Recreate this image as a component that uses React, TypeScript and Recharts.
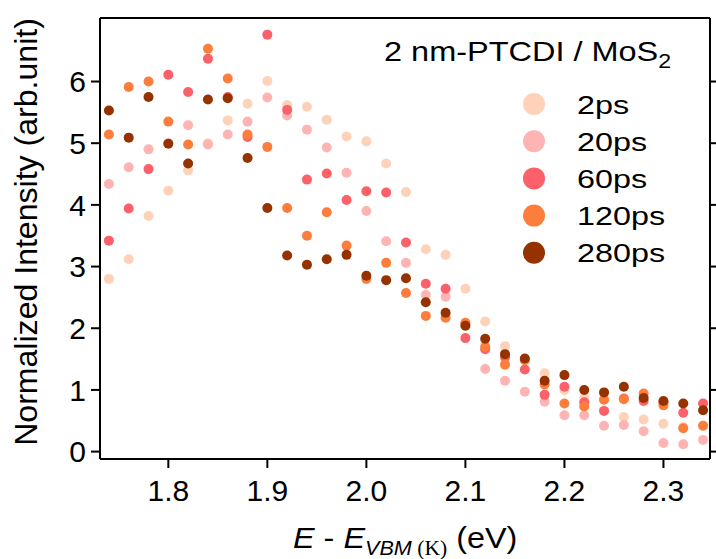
import { ScatterChart, Scatter, XAxis, YAxis } from "recharts";

const energy = [
  1.74, 1.76, 1.78, 1.8, 1.82, 1.84, 1.86, 1.88, 1.9, 1.92, 1.94, 1.96, 1.98, 2.0, 2.02, 2.04,
  2.06, 2.08, 2.1, 2.12, 2.14, 2.16, 2.18, 2.2, 2.22, 2.24, 2.26, 2.28, 2.3, 2.32, 2.34,
];

const ps2 = [
  2.8, 3.12, 3.82, 4.23, 4.56, 5.0, 5.37, 5.64, 6.01, 5.62, 5.59, 5.38, 5.11, 5.03, 4.67, 4.21,
  3.28, 3.19, 2.64, 2.11, 1.71, 1.5, 1.27, 1.0, 0.87, 0.85, 0.56, 0.52, 0.45, 0.4, 0.42,
];
const ps20 = [
  4.34, 4.61, 4.9, 5.0, 5.29, 4.98, 5.14, 5.35, 5.74, 5.45, 5.22, 4.93, 4.52, 3.9, 3.41, 3.06,
  2.54, 2.51, 2.05, 1.34, 1.15, 0.97, 0.81, 0.59, 0.59, 0.42, 0.43, 0.33, 0.14, 0.12, 0.19,
];
const ps60 = [
  3.42, 3.94, 4.58, 6.11, 5.83, 6.37, 5.75, 5.1, 6.76, 5.54, 4.41, 4.51, 4.08, 4.22, 4.2, 3.39,
  2.72, 2.64, 1.84, 1.66, 1.53, 1.33, 0.92, 1.05, 0.8, 0.66, 0.86, 0.82, 0.8, 0.63, 0.78,
];
const ps120 = [
  5.14, 5.91, 6.0, 5.35, 4.98, 6.53, 6.05, 5.14, 4.94, 3.95, 3.5, 3.88, 3.34, 2.8, 3.06, 2.57,
  2.2, 2.17, 2.09, 1.7, 1.41, 1.48, 1.09, 0.78, 0.73, 0.84, 0.85, 0.94, 0.75, 0.38, 0.42,
];
const ps280 = [
  5.53, 5.09, 5.75, 4.99, 4.67, 5.71, 5.73, 4.76, 3.95, 3.18, 3.03, 3.12, 3.19, 2.85, 2.78, 2.81,
  2.42, 2.25, 2.04, 1.83, 1.58, 1.51, 1.15, 1.24, 1.0, 0.96, 1.05, 0.87, 0.82, 0.78, 0.67,
];

const seriesNames = ["2ps", "20ps", "60ps", "120ps", "280ps"];
const seriesValues = [ps2, ps20, ps60, ps120, ps280];
const seriesColors = ["#FED2B8", "#FEB4B2", "#FC6068", "#FD7E3C", "#943200"];

const xTicks = [1.8, 1.9, 2.0, 2.1, 2.2, 2.3];
const yTicks = [0, 1, 2, 3, 4, 5, 6];

const FONT = "Arial, 'Liberation Sans', sans-serif";
const axisStyle = { stroke: "#000", strokeWidth: 2 };

const toPoints = (vals: number[]) => energy.map((x, i) => ({ x, y: vals[i] }));

export default function App() {
  return (
    <div style={{ position: "absolute", left: 0, top: 0, width: 716, height: 559, background: "#fff", fontFamily: FONT }}>
      <ScatterChart width={716} height={559} margin={{ top: 8, right: 0, bottom: 20, left: 30 }}>
        <XAxis
          xAxisId="b"
          type="number"
          dataKey="x"
          domain={[1.731, 2.347]}
          allowDataOverflow
          ticks={xTicks}
          tickFormatter={(v: number) => v.toFixed(1)}
          height={80}
          tickSize={9}
          tickMargin={12}
          axisLine={axisStyle}
          tickLine={axisStyle}
          tick={{ fill: "#000", fontSize: 30, fontFamily: FONT }}
        />
        <XAxis
          xAxisId="t"
          orientation="top"
          type="number"
          domain={[1.731, 2.347]}
          allowDataOverflow
          ticks={xTicks}
          tickFormatter={() => ""}
          height={10}
          tickSize={8}
          axisLine={axisStyle}
          tickLine={axisStyle}
        />
        <YAxis
          yAxisId="l"
          type="number"
          dataKey="y"
          domain={[-0.12, 7.03]}
          allowDataOverflow
          ticks={yTicks}
          width={70}
          tickSize={9}
          tickMargin={5}
          axisLine={axisStyle}
          tickLine={axisStyle}
          tick={{ fill: "#000", fontSize: 30, fontFamily: FONT }}
        />
        <YAxis
          yAxisId="r"
          orientation="right"
          type="number"
          domain={[-0.12, 7.03]}
          allowDataOverflow
          ticks={yTicks}
          tickFormatter={() => ""}
          width={6}
          tickSize={8}
          axisLine={axisStyle}
          tickLine={axisStyle}
        />
        {seriesNames.map((name, i) => (
          <Scatter
            key={name}
            name={name}
            xAxisId="b"
            yAxisId="l"
            data={toPoints(seriesValues[i])}
            fill={seriesColors[i]}
            isAnimationActive={false}
            shape={(p: any) => <circle cx={p.cx} cy={p.cy} r={5} fill={seriesColors[i]} />}
          />
        ))}
      </ScatterChart>
      <svg width={716} height={559} style={{ position: "absolute", left: 0, top: 0, pointerEvents: "none" }}>
        <g transform="translate(384,61) scale(1.16,1)">
          <text x={0} y={0} fontSize={28} fontFamily={FONT} fill="#000">
            2 nm-PTCDI / MoS
            <tspan fontSize={20} dy={7}>2</tspan>
          </text>
        </g>
        {seriesNames.map((name, i) => (
          <g key={name}>
            <circle cx={534} cy={104 + i * 37.2} r={11} fill={seriesColors[i]} />
            <g transform={`translate(577,${104 + i * 37.2 + 9.5}) scale(1.22,1)`}>
              <text x={0} y={0} fontSize={26.5} fontFamily={FONT} fill="#000">
                {name}
              </text>
            </g>
          </g>
        ))}
        <g transform="translate(37,232) rotate(-90) scale(1.035,1)">
          <text x={0} y={0} textAnchor="middle" fontSize={31} fontFamily={FONT} fill="#000">
            Normalized Intensity (arb.unit)
          </text>
        </g>
        <g transform="translate(293,548) scale(1.08,1)">
          <text x={0} y={0} fontSize={30} fontFamily={FONT} fill="#000">
            <tspan fontStyle="italic">E</tspan>
            <tspan> - </tspan>
            <tspan fontStyle="italic">E</tspan>
            <tspan fontSize={20} dy={7} fontStyle="italic">VBM</tspan>
            <tspan fontSize={20} fontFamily="'Liberation Serif', serif"> (K)</tspan>
            <tspan dy={-7}> (eV)</tspan>
          </text>
        </g>
      </svg>
    </div>
  );
}
